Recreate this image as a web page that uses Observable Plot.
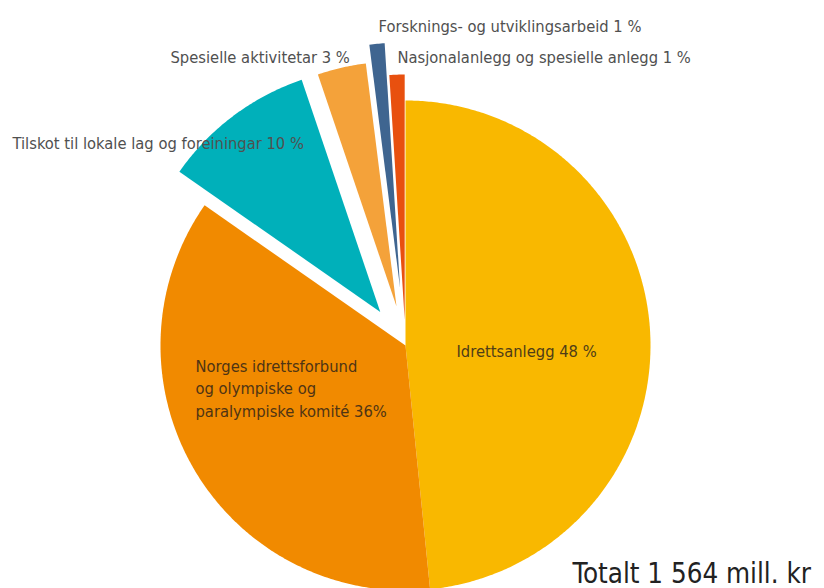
<!DOCTYPE html>
<html><head><meta charset="utf-8">
<script src="https://cdn.jsdelivr.net/npm/d3@7"></script>
<script src="https://cdn.jsdelivr.net/npm/@observablehq/plot@0.6"></script>
<style>
html,body{margin:0;padding:0;overflow:hidden;background:#fff}
</style>
</head><body><div id="chart"></div>
<script>
// ---- data ----
const categories = [
  "Idrettsanlegg",
  "Norges idrettsforbund og olympiske og paralympiske komité",
  "Tilskot til lokale lag og foreiningar",
  "Spesielle aktivitetar",
  "Forsknings- og utviklingsarbeid",
  "Nasjonalanlegg og spesielle anlegg"
];
const shares = [48.4, 36.3, 10.1, 3.2, 1.0, 1.0];
const labels = [
  "Idrettsanlegg 48 %",
  "Norges idrettsforbund\nog olympiske og\nparalympiske komité 36%",
  "Tilskot til lokale lag og foreiningar 10 %",
  "Spesielle aktivitetar 3 %",
  "Forsknings- og utviklingsarbeid 1 %",
  "Nasjonalanlegg og spesielle anlegg 1 %"
];
const totalLabel = "Totalt 1 564 mill. kr";

// ---- style / layout ----
const colors = ["#F9B800", "#F18A00", "#00B0BA", "#F4A23A", "#3F6590", "#E8500F"];
const explode = [0, 0, 42, 40, 58, 26];        // px, pulled out along bisector
const W = 824, H = 588, R = 245, CX = 405, CY = 345;
// label anchors (pixel coords of baseline start)
const labelPos = [[456, 356], [195, 416], [12, 148], [170, 62], [378, 31], [397, 62]];
const labelFill = ["#4f3d18", "#4f3414", "#505050", "#505050", "#505050", "#505050"];
const totalPos = [572, 582];
const FONT = "'DejaVu Sans Condensed', 'DejaVu Sans', sans-serif";

// ---- geometry from data ----
const arcs = d3.pie().sort(null).value(d => d)(shares);
const points = [];
arcs.forEach((a, i) => {
  const mid = (a.startAngle + a.endAngle) / 2;
  const ox = Math.sin(mid) * explode[i], oy = Math.cos(mid) * explode[i];
  const name = categories[i];
  points.push({name, x: ox, y: oy});
  const n = Math.max(6, Math.ceil((a.endAngle - a.startAngle) / (Math.PI / 360)));
  for (let k = 0; k <= n; k++) {
    const t = a.startAngle + (a.endAngle - a.startAngle) * k / n;
    points.push({name, x: ox + Math.sin(t) * R, y: oy + Math.cos(t) * R});
  }
  points.push({name, x: ox, y: oy});
});

const labelData = labels.map((t, i) => ({
  text: t, x: labelPos[i][0] - CX, y: CY - labelPos[i][1], fill: labelFill[i]
}));

const chart = Plot.plot({
  width: W, height: H, margin: 0,
  style: {background: "#fff", overflow: "hidden"},
  x: {domain: [-CX, W - CX], axis: null},
  y: {domain: [CY - H, CY], axis: null},
  color: {domain: categories, range: colors},
  marks: [
    Plot.line(points, {x: "x", y: "y", z: "name", fill: "name", stroke: "none", curve: "linear"}),
    Plot.text(labelData, {
      x: "x", y: "y", text: "text", fill: d => d.fill,
      textAnchor: "start", lineAnchor: "bottom", lineHeight: 1.37,
      fontSize: 16.4, fontFamily: FONT
    }),
    Plot.text([totalLabel], {
      x: () => totalPos[0] - CX, y: () => CY - totalPos[1], text: d => d,
      textAnchor: "start", lineAnchor: "bottom", fontSize: 27.5, fill: "#222", fontFamily: FONT
    })
  ]
});
document.getElementById("chart").append(chart);
</script>
</body></html>
